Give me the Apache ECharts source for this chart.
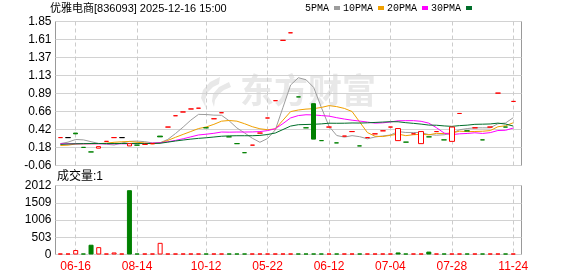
<!DOCTYPE html>
<html><head><meta charset="utf-8">
<script src="https://cdn.jsdelivr.net/npm/echarts@6/dist/echarts.min.js"></script>
<style>html,body{margin:0;padding:0;background:#fff}#c{width:578px;height:276px}</style>
</head><body><div id="c"></div>
<script>
// ---- data ----
const dateLabels = ['', '', '06-16', '', '', '', '', '', '', '', '08-14', '', '', '', '', '', '', '', '', '10-12',
  '', '', '', '', '', '', '', '05-22', '', '', '', '', '', '', '', '06-12', '', '', '', '',
  '', '', '', '07-04', '', '', '', '', '', '', '', '07-28', '', '', '', '', '', '', '', '11-24'];
const opens = [0.31,0.31,0.37,0.18,0.12,0.17,0.26,0.31,0.31,0.20,
  0.21,0.22,0.23,0.33,0.45,0.60,0.65,0.69,0.70,0.44,
  0.56,0.64,0.32,0.23,0.11,0.21,0.37,0.57,0.80,1.60,
  1.70,0.85,0.44,0.76,0.27,0.45,0.24,0.33,0.39,0.20,
  0.31,0.36,0.40,0.45,0.27,0.25,0.36,0.23,0.32,0.39,
  0.28,0.26,0.63,0.40,0.44,0.28,0.45,0.90,0.45,0.79];
const closes = [0.31,0.31,0.36,0.18,0.12,0.19,0.26,0.31,0.31,0.23,
  0.21,0.22,0.23,0.32,0.45,0.60,0.65,0.69,0.70,0.44,
  0.56,0.64,0.32,0.23,0.11,0.21,0.37,0.57,0.80,1.60,
  1.70,0.85,0.44,0.29,0.27,0.45,0.24,0.33,0.39,0.20,
  0.31,0.36,0.40,0.45,0.43,0.25,0.36,0.39,0.32,0.39,
  0.28,0.45,0.63,0.40,0.44,0.28,0.45,0.90,0.45,0.79];
const volumes = [20,20,130,20,285,215,20,60,20,1875,
  20,20,20,340,20,20,20,20,20,20,
  20,20,20,20,20,20,20,20,20,20,
  20,20,20,20,20,20,20,20,20,20,
  20,20,20,20,60,20,20,20,85,20,
  20,20,20,20,20,20,20,20,20,20];
const ma5 = [0.23,0.25,0.285,0.28,0.256,0.232,0.222,0.212,0.238,0.26,
  0.264,0.256,0.24,0.242,0.286,0.364,0.45,0.542,0.618,0.616,
  0.608,0.606,0.532,0.438,0.372,0.302,0.248,0.298,0.412,0.71,
  1.008,1.104,1.078,0.976,0.71,0.46,0.338,0.316,0.336,0.322,
  0.294,0.318,0.332,0.344,0.39,0.378,0.378,0.376,0.35,0.342,
  0.348,0.366,0.414,0.43,0.44,0.44,0.44,0.494,0.504,0.574];
const ma10 = [0.205,0.21,0.225,0.228,0.228,0.23,0.236,0.248,0.255,0.258,
  0.248,0.239,0.226,0.24,0.273,0.314,0.353,0.391,0.43,0.451,
  0.486,0.528,0.537,0.528,0.494,0.455,0.427,0.415,0.425,0.541,
  0.655,0.676,0.688,0.694,0.71,0.734,0.721,0.697,0.656,0.516,
  0.377,0.328,0.324,0.34,0.356,0.336,0.348,0.354,0.347,0.366,
  0.363,0.372,0.395,0.39,0.391,0.394,0.403,0.454,0.467,0.507];
const ma20 = [0.228,0.228,0.228,0.228,0.228,0.228,0.228,0.228,0.228,0.228,
  0.23,0.232,0.236,0.242,0.255,0.273,0.295,0.32,0.345,0.355,
  0.367,0.384,0.382,0.384,0.384,0.385,0.39,0.403,0.428,0.496,
  0.571,0.602,0.613,0.611,0.602,0.595,0.574,0.556,0.541,0.529,
  0.516,0.502,0.506,0.517,0.533,0.535,0.535,0.526,0.502,0.441,
  0.37,0.35,0.36,0.365,0.374,0.365,0.376,0.404,0.407,0.437];
const ma30 = [0.22,0.225,0.228,0.23,0.232,0.232,0.232,0.232,0.232,0.232,
  0.232,0.232,0.232,0.235,0.25,0.265,0.278,0.29,0.30,0.308,
  0.318,0.328,0.333,0.335,0.335,0.335,0.339,0.351,0.371,0.417,
  0.463,0.481,0.484,0.487,0.492,0.501,0.50,0.501,0.504,0.503,
  0.506,0.511,0.516,0.521,0.52,0.508,0.499,0.489,0.476,0.474,
  0.465,0.459,0.469,0.475,0.486,0.488,0.491,0.502,0.49,0.463];
const priceTicks = ['-0.06','0.18','0.42','0.66','0.89','1.13','1.37','1.61','1.85'];
const priceMin = -0.06, priceMax = 1.85;
const volTicks = [0, 503, 1006, 1509, 2012];
const maNames = ['5PMA','10PMA','20PMA','30PMA'];

// ---- styling ----
const RED = '#ff0000', GREEN = '#008000', BLACK = '#000000';
const maColors = ['#9c9c9c', '#f0a000', '#ff00ff', '#006e2a'];
const FONT = 'Liberation Sans, Noto Sans CJK SC, sans-serif';

function dirOf(i) {
  const o = opens[i], c = closes[i];
  if (c > o) return 'up';
  if (c < o) return 'down';
  if (i === 0) return 'up';
  const p = closes[i - 1];
  return c > p ? 'up' : (c < p ? 'down' : 'flat');
}
const candleData = opens.map((o, i) => {
  const c = closes[i];
  const d = dirOf(i);
  const stroke = d === 'up' ? RED : d === 'down' ? GREEN : BLACK;
  const fill = d === 'up' ? '#ffffff' : stroke;
  return {
    value: [o, c, Math.min(o, c), Math.max(o, c)],
    itemStyle: { color: fill, color0: fill, borderColor: stroke, borderColor0: stroke, borderColorDoji: stroke }
  };
});
const volData = volumes.map((v, i) => {
  const up = i === 0 || closes[i] >= closes[i - 1];
  return {
    value: v,
    itemStyle: up ? { color: '#ffffff', borderColor: RED, borderWidth: 1 }
                  : { color: GREEN, borderColor: GREEN, borderWidth: 1 }
  };
});
const showLabel = (idx, val) => val !== '';

const maSeries = [ma5, ma10, ma20, ma30].map((arr, k) => ({
  name: maNames[k], type: 'line', xAxisIndex: 1, yAxisIndex: 1,
  data: arr, symbol: 'none', showSymbol: false, smooth: false, z: 3,
  color: maColors[k], lineStyle: { color: maColors[k], width: 1 }, clip: false, silent: true
}));

const chart = echarts.init(document.getElementById('c'), null, { renderer: 'canvas' });
chart.setOption({
  animation: false,
  backgroundColor: '#ffffff',
  title: [
    { text: '优雅电商[836093] 2025-12-16 15:00', left: 50, top: 3, padding: 0,
      textStyle: { fontSize: 11, fontWeight: 'normal', color: '#000', fontFamily: FONT } },
    { text: '成交量:1', left: 57, top: 171, padding: 0,
      textStyle: { fontSize: 12, fontWeight: 'normal', color: '#000', fontFamily: FONT } }
  ],
  legend: {
    left: 305, top: 3, padding: 0, itemWidth: 6, itemHeight: 4, itemGap: 3, align: 'right',
    textStyle: { fontSize: 10, color: '#000', fontFamily: 'Liberation Mono, monospace' },
    data: maNames.map(n => ({ name: n, icon: 'rect' })),
    selectedMode: false
  },
  graphic: [
    { type: 'polygon', z: 0, silent: true,
      shape: { points: [[220,77],[210,82],[203,90],[201,98],[206,108],[205,100],[208,92],[213,87],[219,84]] },
      style: { fill: '#e8e8e8' } },
    { type: 'polygon', z: 0, silent: true,
      shape: { points: [[229,82],[219,87],[213,94],[212,101],[214,107],[215,100],[219,94],[224,90],[231,87]] },
      style: { fill: '#e8e8e8' } },
    { type: 'text', left: 240, top: 73, z: 0, silent: true,
      style: { text: '东方财富', fontSize: 34, fontWeight: 'bold', fill: '#e8e8e8',
               fontFamily: 'Noto Sans CJK SC, sans-serif' } }
  ],
  grid: [
    { left: 55.5, top: 21.5, width: 466, height: 144, show: true, borderColor: '#999', borderWidth: 1, backgroundColor: 'transparent' },
    { left: 60.35, top: 21.5, width: 452.9, height: 144 },
    { left: 55.5, top: 185.5, width: 466, height: 69, show: true, borderColor: '#999', borderWidth: 1, backgroundColor: 'transparent' },
    { left: 60.35, top: 185.5, width: 452.9, height: 69 }
  ],
  xAxis: [
    { type: 'value', gridIndex: 0, min: 0, max: 1, show: false },
    { type: 'category', gridIndex: 1, data: dateLabels, boundaryGap: false,
      axisLine: { show: false }, axisTick: { show: false, interval: showLabel },
      axisLabel: { show: false, interval: showLabel },
      splitLine: { show: true, interval: showLabel, lineStyle: { color: '#cccccc', type: [4, 3], width: 1 } } },
    { type: 'value', gridIndex: 2, min: 0, max: 1, show: false },
    { type: 'category', gridIndex: 3, data: dateLabels, boundaryGap: false,
      axisLine: { show: false }, axisTick: { show: false, interval: showLabel },
      axisLabel: { show: true, interval: showLabel, color: RED, fontSize: 12, fontFamily: FONT, margin: 6 },
      splitLine: { show: true, interval: showLabel, lineStyle: { color: '#cccccc', type: [4, 3], width: 1 } } }
  ],
  yAxis: [
    { type: 'value', gridIndex: 0, min: 0, max: priceTicks.length - 1, interval: 1,
      axisLine: { show: false }, axisTick: { show: false },
      axisLabel: { color: '#000', fontSize: 12, fontFamily: FONT, margin: 4, formatter: v => priceTicks[v] },
      splitLine: { show: true, lineStyle: { color: '#d2d2d2', width: 1 } } },
    { type: 'value', gridIndex: 1, min: priceMin, max: priceMax, show: false, splitLine: { show: false } },
    { type: 'value', gridIndex: 2, min: volTicks[0], max: volTicks[volTicks.length - 1], interval: volTicks[1] - volTicks[0],
      axisLine: { show: false }, axisTick: { show: false },
      axisLabel: { color: '#000', fontSize: 12, fontFamily: FONT, margin: 4, formatter: v => String(v) },
      splitLine: { show: true, lineStyle: { color: '#d2d2d2', width: 1 } } },
    { type: 'value', gridIndex: 3, min: volTicks[0], max: volTicks[volTicks.length - 1], show: false, splitLine: { show: false } }
  ],
  series: [
    ...maSeries,
    { name: 'K', type: 'candlestick', xAxisIndex: 1, yAxisIndex: 1, data: candleData,
      barWidth: 5, clip: false, z: 4, silent: true,
      itemStyle: { borderWidth: 1 } },
    { name: 'VOL', type: 'bar', xAxisIndex: 3, yAxisIndex: 3, data: volData,
      barWidth: 5, barMinHeight: 1, clip: false, silent: true }
  ]
});
</script>
</body></html>
